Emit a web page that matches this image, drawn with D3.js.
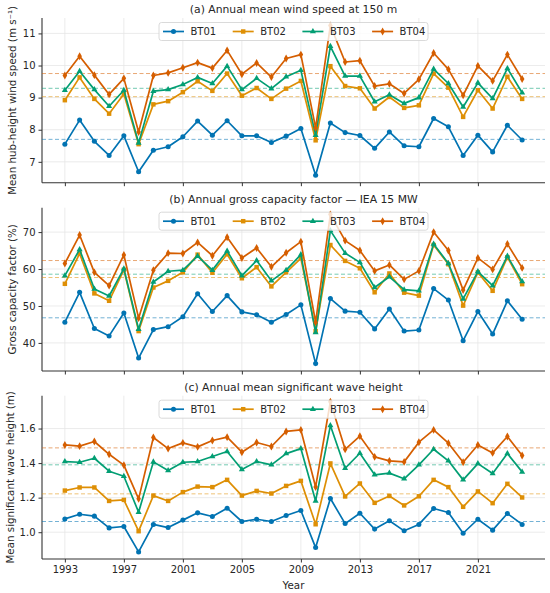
<!DOCTYPE html>
<html>
<head>
<meta charset="utf-8">
<script src="https://cdn.jsdelivr.net/npm/d3@7"></script>
<style>
  body { margin: 0; background: #fff; }
  svg { display: block; font-family: "DejaVu Sans", sans-serif; }
</style>
</head>
<body>
<svg id="chart" width="550" height="593"></svg>
<script>
const years = d3.range(1993, 2025);
const seriesNames = ["BT01", "BT02", "BT03", "BT04"];
const seriesColors = ["#0173b2", "#de8f05", "#029e73", "#d55e00"];
const seriesMarkers = ["circle", "square", "triangle", "diamond"];
const xTicks = [1993, 1997, 2001, 2005, 2009, 2013, 2017, 2021];

// (a) wind speed at 150 m
const windBT01 = [7.55,8.30,7.64,7.20,7.81,6.69,7.36,7.47,7.78,8.27,7.83,8.28,7.81,7.81,7.60,7.80,8.04,6.58,8.21,7.91,7.82,7.42,7.93,7.50,7.47,8.35,8.09,7.20,7.83,7.31,8.14,7.68];
const windBT02 = [8.92,9.63,8.96,8.50,9.11,7.55,8.79,8.89,9.17,9.51,9.21,9.75,9.06,9.30,8.96,9.28,9.52,7.67,9.98,9.36,9.29,8.66,9.02,8.68,8.76,9.75,9.31,8.40,9.23,8.66,9.65,8.96];
const windBT03 = [9.23,9.82,9.25,8.73,9.23,7.59,9.20,9.25,9.41,9.63,9.44,9.98,9.25,9.60,9.28,9.65,9.85,7.83,10.60,9.67,9.67,8.87,9.09,8.82,9.00,9.89,9.44,8.71,9.46,8.97,9.91,9.15];
const windBT04 = [9.69,10.29,9.70,9.10,9.60,7.93,9.69,9.77,9.93,10.09,9.92,10.47,9.73,10.08,9.64,10.22,10.34,8.06,11.25,10.11,10.15,9.36,9.43,9.13,9.57,10.39,9.88,9.07,9.99,9.52,10.34,9.58];
const windMeans = [7.70, 9.03, 9.29, 9.75];

// (b) gross capacity factor (%)
const cfBT01 = [45.6,53.7,43.9,41.9,48.1,35.9,43.6,44.4,47.1,53.3,48.5,52.8,48.4,47.6,45.6,47.7,50.3,34.4,52.0,48.6,48.3,43.8,49.2,43.2,43.5,54.7,51.6,40.6,48.5,42.4,51.4,46.4];
const cfBT02 = [56.0,64.2,53.4,51.4,59.8,43.2,55.0,56.8,59.1,63.9,59.0,64.0,57.5,60.5,55.3,59.1,62.9,43.2,66.5,62.2,60.2,53.7,58.8,53.6,52.8,66.5,61.3,50.1,59.1,54.1,63.2,55.9];
const cfBT03 = [58.2,65.3,54.6,52.7,60.1,43.7,56.5,59.4,59.7,63.5,59.7,64.9,58.2,62.3,56.8,59.7,63.9,42.8,70.4,64.3,61.8,55.0,57.9,54.4,54.1,66.8,61.5,51.9,59.3,55.5,63.5,56.6];
const cfBT04 = [61.5,69.2,59.1,55.5,63.8,46.7,59.7,64.3,64.2,67.2,63.6,68.6,63.0,65.7,60.6,64.4,67.4,45.6,74.8,67.7,65.0,59.5,61.1,57.2,59.5,70.0,65.0,54.3,63.0,59.9,66.8,60.3];
const cfMeans = [46.8, 57.7, 58.6, 62.3];

// (c) significant wave height (m)
const hsBT01 = [1.077,1.104,1.093,1.025,1.033,0.886,1.045,1.027,1.070,1.112,1.091,1.139,1.062,1.075,1.062,1.097,1.126,0.911,1.195,1.050,1.110,1.018,1.066,1.008,1.045,1.137,1.114,0.994,1.075,1.012,1.108,1.045];
const hsBT02 = [1.241,1.259,1.259,1.181,1.187,1.006,1.212,1.181,1.232,1.264,1.261,1.303,1.212,1.239,1.224,1.268,1.297,1.046,1.398,1.207,1.282,1.170,1.210,1.155,1.208,1.303,1.261,1.147,1.236,1.168,1.280,1.201];
const hsBT03 = [1.409,1.405,1.428,1.353,1.324,1.116,1.407,1.357,1.405,1.409,1.438,1.467,1.363,1.409,1.390,1.455,1.484,1.181,1.617,1.370,1.457,1.332,1.342,1.309,1.390,1.480,1.413,1.303,1.397,1.340,1.455,1.349];
const hsBT04 = [1.505,1.498,1.525,1.451,1.388,1.193,1.548,1.484,1.517,1.494,1.531,1.550,1.463,1.519,1.496,1.583,1.592,1.262,1.755,1.480,1.556,1.436,1.413,1.407,1.521,1.592,1.515,1.405,1.505,1.459,1.554,1.444];
const hsMeans = [1.062, 1.222, 1.390, 1.488];

const panels = [
  { title: "(a) Annual mean wind speed at 150 m", ylabel: "Mean hub-height wind speed (m s⁻¹)",
    series: [windBT01, windBT02, windBT03, windBT04], means: windMeans,
    domain: [6.35, 11.48], ticks: [7, 8, 9, 10, 11], fmt: d3.format("d"),
    top: 18, bottom: 182.7, labelX: 12.5 },
  { title: "(b) Annual gross capacity factor — IEA 15 MW", ylabel: "Gross capacity factor (%)",
    series: [cfBT01, cfBT02, cfBT03, cfBT04], means: cfMeans,
    domain: [32.4, 76.6], ticks: [40, 50, 60, 70], fmt: d3.format("d"),
    top: 207.7, bottom: 371, labelX: 12.5 },
  { title: "(c) Annual mean significant wave height", ylabel: "Mean significant wave height (m)",
    series: [hsBT01, hsBT02, hsBT03, hsBT04], means: hsMeans,
    domain: [0.845, 1.79], ticks: [1.0, 1.2, 1.4, 1.6], fmt: d3.format(".1f"),
    top: 395.7, bottom: 559, labelX: 10 }
];

const svg = d3.select("#chart");
const left = 42, right = 545;
const x = d3.scaleLinear().domain([1991.45, 2025.55]).range([left, right]);
const textColor = "#262626";

const symbolType = {
  circle: d3.symbolCircle, square: d3.symbolSquare,
  triangle: d3.symbolTriangle, diamond: d3.symbolDiamond
};
const symbolSize = { circle: 20, square: 20, triangle: 16, diamond: 18 };

panels.forEach((p, pi) => {
  const y = d3.scaleLinear().domain(p.domain).range([p.bottom, p.top]);
  const g = svg.append("g");

  // grid
  g.append("g").selectAll("line").data(p.ticks).join("line")
    .attr("x1", left).attr("x2", right)
    .attr("y1", d => y(d)).attr("y2", d => y(d))
    .attr("stroke", "#e6e6e6").attr("stroke-width", 0.8);
  g.append("g").selectAll("line").data(xTicks).join("line")
    .attr("x1", d => x(d)).attr("x2", d => x(d))
    .attr("y1", p.top).attr("y2", p.bottom)
    .attr("stroke", "#e6e6e6").attr("stroke-width", 0.8);

  // axes
  const yAxis = g.append("g").attr("transform", `translate(${left},0)`)
    .call(d3.axisLeft(y).tickValues(p.ticks).tickFormat(p.fmt).tickSize(3.5).tickPadding(3));
  const xAxis = g.append("g").attr("transform", `translate(0,${p.bottom})`)
    .call(d3.axisBottom(x).tickValues(xTicks).tickFormat(pi === 2 ? d3.format("d") : () => "").tickSize(3.5).tickPadding(3.5));
  [yAxis, xAxis].forEach(a => {
    a.select(".domain").attr("stroke", "#333").attr("stroke-width", 1.1);
    a.selectAll(".tick line").attr("stroke", "#333").attr("stroke-width", 1);
    a.selectAll(".tick text").attr("fill", textColor).attr("font-size", 10)
      .attr("font-family", "DejaVu Sans");
  });
  yAxis.select(".domain").attr("d", `M0,${p.top}V${p.bottom}`);
  xAxis.select(".domain").attr("d", `M${left},0H${right}`);

  // mean dashed lines
  p.means.forEach((m, si) => {
    g.append("line")
      .attr("x1", left).attr("x2", right)
      .attr("y1", y(m)).attr("y2", y(m))
      .attr("stroke", seriesColors[si]).attr("stroke-opacity", 0.55)
      .attr("stroke-width", 1).attr("stroke-dasharray", "4,2.5");
  });

  // series lines and markers
  const line = d3.line().x((d, i) => x(years[i])).y(d => y(d));
  p.series.forEach((vals, si) => {
    g.append("path").datum(vals)
      .attr("d", line).attr("fill", "none")
      .attr("stroke", seriesColors[si]).attr("stroke-width", 1.7)
      .attr("stroke-linejoin", "round");
    const mk = seriesMarkers[si];
    g.append("g").selectAll("path").data(vals).join("path")
      .attr("transform", (d, i) => `translate(${x(years[i])},${y(d)})`)
      .attr("d", d3.symbol().type(symbolType[mk]).size(symbolSize[mk]))
      .attr("fill", seriesColors[si]);
  });

  // title
  svg.append("text").attr("x", (left + right) / 2).attr("y", p.top - 5)
    .attr("text-anchor", "middle").attr("font-size", 10.8).attr("fill", textColor)
    .text(p.title);

  // y label
  svg.append("text")
    .attr("transform", `translate(${p.labelX + 3.5},${(p.top + p.bottom) / 2}) rotate(-90)`)
    .attr("text-anchor", "middle").attr("font-size", 10.3).attr("fill", textColor)
    .text(p.ylabel);

  // legend
  const lgW = 269, lgH = 18;
  const lgX = (left + right) / 2 - lgW / 2, lgY = p.top + 4.5;
  const lg = svg.append("g");
  lg.append("rect").attr("x", lgX).attr("y", lgY).attr("width", lgW).attr("height", lgH)
    .attr("rx", 2.5).attr("fill", "#fff").attr("fill-opacity", 0.8)
    .attr("stroke", "#d0d0d0").attr("stroke-width", 0.8);
  seriesNames.forEach((name, si) => {
    const cx = lgX + 4 + si * 69.7;
    const cy = lgY + lgH / 2;
    lg.append("line").attr("x1", cx).attr("x2", cx + 21).attr("y1", cy).attr("y2", cy)
      .attr("stroke", seriesColors[si]).attr("stroke-width", 1.7);
    const mk = seriesMarkers[si];
    lg.append("path").attr("transform", `translate(${cx + 10.5},${cy})`)
      .attr("d", d3.symbol().type(symbolType[mk]).size(symbolSize[mk]))
      .attr("fill", seriesColors[si]);
    lg.append("text").attr("x", cx + 27.5).attr("y", cy + 3.6)
      .attr("font-size", 10).attr("fill", textColor).text(name);
  });
});

// x label
svg.append("text").attr("x", (left + right) / 2).attr("y", 588.5)
  .attr("text-anchor", "middle").attr("font-size", 10.3).attr("fill", textColor)
  .text("Year");
</script>
</body>
</html>
